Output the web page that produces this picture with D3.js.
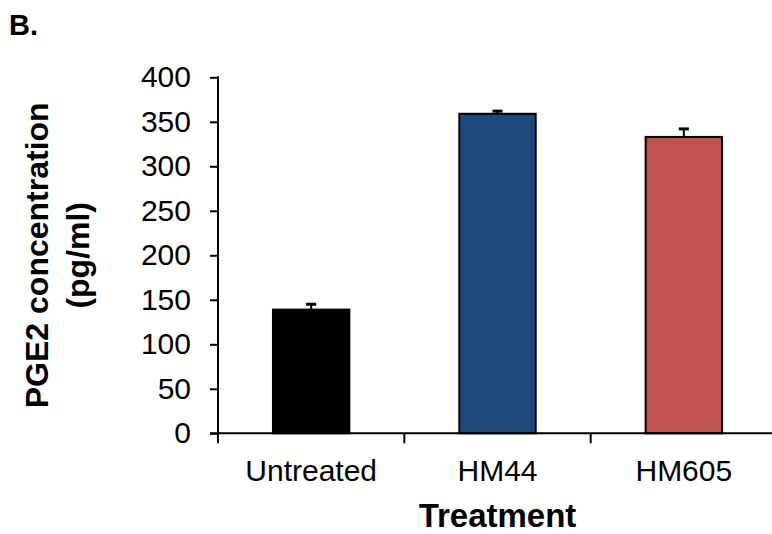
<!DOCTYPE html>
<html><head><meta charset="utf-8">
<script src="https://cdn.jsdelivr.net/npm/d3@7"></script>
<style>body{margin:0;background:#fff}svg{display:block}text{font-family:Arial,"Liberation Sans",sans-serif;fill:#000}</style>
</head><body><svg id="c" width="772" height="534"></svg>
<script>
const categories = ["Untreated", "HM44", "HM605"];
const values = [139, 359, 333];
const errors = [6, 3, 9];
const colors = ["#000000", "#1F497D", "#C0504D"];
const yTicks = [0, 50, 100, 150, 200, 250, 300, 350, 400];
const panelLabel = "B.";
const xTitle = "Treatment";
const yTitleLines = ["PGE2 concentration", "(pg/ml)"];

const svg = d3.select("#c");
const x0 = 218, x1 = 777, yTop = 77.3, yBot = 433.3;
const x = d3.scaleBand().domain(categories).range([x0, x1]).paddingInner(0.59).paddingOuter(0.295);
const xb = d3.scaleBand().domain(categories).range([x0, x1]);
const y = d3.scaleLinear().domain([0, 400]).range([yBot, yTop]);

// bars
svg.selectAll("rect.bar").data(categories).join("rect")
  .attr("x", d => x(d)).attr("width", x.bandwidth())
  .attr("y", (d, i) => y(values[i])).attr("height", (d, i) => y(0) - y(values[i]))
  .attr("fill", (d, i) => colors[i]).attr("stroke", "#000").attr("stroke-width", 2);

// error bars (upper)
categories.forEach((d, i) => {
  const cx = x(d) + x.bandwidth() / 2;
  svg.append("line").attr("x1", cx).attr("x2", cx)
    .attr("y1", y(values[i])).attr("y2", y(values[i] + errors[i]))
    .attr("stroke", "#000").attr("stroke-width", 2);
  svg.append("line").attr("x1", cx - 5).attr("x2", cx + 5)
    .attr("y1", y(values[i] + errors[i])).attr("y2", y(values[i] + errors[i]))
    .attr("stroke", "#000").attr("stroke-width", 3);
});

// y axis
const ya = svg.append("g").attr("transform", `translate(${x0},0)`)
  .call(d3.axisLeft(y).tickValues(yTicks).tickSize(8).tickPadding(19));
ya.select(".domain").remove();
ya.selectAll(".tick line").attr("stroke", "#000").attr("stroke-width", 2);
ya.selectAll(".tick text").attr("font-size", 30).attr("font-family", "Arial, 'Liberation Sans', sans-serif");
svg.append("line").attr("x1", x0).attr("x2", x0).attr("y1", yTop - 1).attr("y2", yBot + 10)
  .attr("stroke", "#000").attr("stroke-width", 2);

// x axis
svg.append("line").attr("x1", x0 - 8).attr("x2", 772).attr("y1", yBot).attr("y2", yBot)
  .attr("stroke", "#000").attr("stroke-width", 2);
categories.slice(1).forEach(d => {
  svg.append("line").attr("x1", xb(d)).attr("x2", xb(d)).attr("y1", yBot).attr("y2", yBot + 10)
    .attr("stroke", "#000").attr("stroke-width", 2);
});
svg.selectAll("text.xl").data(categories).join("text").attr("class", "xl")
  .attr("x", d => x(d) + x.bandwidth() / 2).attr("y", 481)
  .attr("text-anchor", "middle").attr("font-size", 30).text(d => d);

// titles
svg.append("text").attr("x", (x0 + x1) / 2).attr("y", 527).attr("text-anchor", "middle")
  .attr("font-size", 33).attr("font-weight", "bold").text(xTitle);
const yc = (yTop + yBot) / 2;
yTitleLines.forEach((t, i) => {
  svg.append("text").attr("transform", `translate(${48 + i * 41},${yc}) rotate(-90)`)
    .attr("text-anchor", "middle").attr("font-size", 32).attr("font-weight", "bold").text(t);
});
svg.append("text").attr("x", 9).attr("y", 35).attr("font-size", 29).attr("font-weight", "bold").text(panelLabel);
</script></body></html>
